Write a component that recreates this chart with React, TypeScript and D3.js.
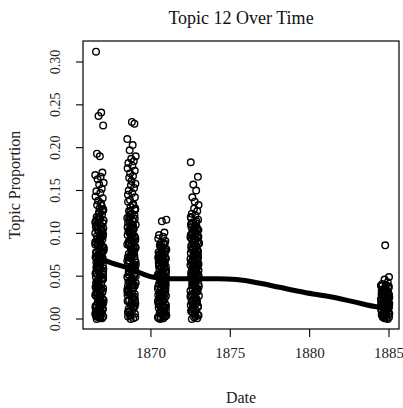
import React from "react";
import * as d3 from "d3";

const TITLE = "Topic 12 Over Time";
const X_LABEL = "Date";
const Y_LABEL = "Topic Proportion";
const X_TICKS = [1870, 1875, 1880, 1885];
const Y_TICKS = [0, 0.05, 0.1, 0.15, 0.2, 0.25, 0.3];

// publication dates (year centres of each batch)
const DATES = [1866.75, 1868.77, 1870.7, 1872.75, 1884.75];

// within-year spread of the documents (years)
const JITTER = [-0.21, 0.12, -0.05, 0.24, -0.15, 0.03, 0.19, -0.26, 0.08, -0.11, 0.27, -0.01, 0.15, -0.19, 0.06, -0.24, 0.21, -0.08, 0.1, -0.14, 0.01, 0.25, -0.03, 0.17, -0.17, 0.05, -0.22, 0.22, -0.09];

const TOPIC_1866 = [.312,.241,.237,.226,.193,.190,.171,.168,.166,.163,.159,.157,.152,.149,.147,.143,.141,.138,.135,.133,.129,.127,.124,.122,.119,.117,.114,.112,.109,.107,.104,.102,.099,.097,.095,.093,.090,.088,.086,.083,.081,.079,.077,.074,.072,.071,.068,.066,.064,.061,.059,.057,.055,.053,.051,.049,.047,.045,.042,.041,.038,.036,.034,.032,.031,.028,.026,.024,.022,.021,.018,.016,.014,.013,.011,.009,.008,.006,.004,.003,.002,.001,.000,.001,.005,.012,.019,.027,.035,.043,.052,.062,.070,.078,.087,.096,.105,.115,.124,.132,.003,.007,.015,.023,.039,.046,.058,.067,.084,.092,.101,.110,.002,.010,.063,.075,.089,.108,.118,.056,.044,.029,.126,.113,.098,.094,.082,.076,.069,.060,.050,.037,.033,.025,.017,.004,.120,.106,.091,.085,.073,.065,.054,.048,.040,.030,.020,.011,.128,.116,.111,.103,.100,.094,.089,.080,.075,.070,.066,.059,.053,.046,.043,.036,.031,.024,.019,.012,.007,.003,.117,.108,.097,.087,.078,.068,.058,.047,.038,.027,.016,.006];
const TOPIC_1868 = [.230,.228,.210,.203,.197,.190,.187,.184,.182,.179,.176,.173,.170,.167,.165,.161,.158,.156,.153,.150,.147,.145,.142,.139,.137,.134,.131,.128,.126,.123,.121,.118,.115,.113,.110,.108,.105,.103,.100,.098,.095,.093,.091,.088,.086,.083,.081,.079,.076,.074,.072,.069,.067,.065,.062,.060,.058,.056,.053,.051,.049,.046,.044,.042,.040,.037,.035,.033,.031,.029,.027,.024,.022,.020,.018,.016,.014,.012,.010,.008,.006,.004,.003,.001,.000,.002,.009,.017,.026,.034,.045,.054,.063,.071,.082,.090,.099,.107,.117,.125,.133,.120,.111,.094,.085,.077,.068,.057,.048,.039,.030,.021,.013,.005,.129,.116,.104,.097,.087,.080,.073,.066,.059,.052,.043,.036,.028,.019,.122,.109,.101,.092,.084,.075,.064,.055,.047,.038,.127,.119,.112,.106,.099,.092,.086,.079,.073,.068,.061,.056,.050,.044,.039,.032,.026,.021,.015,.009,.114,.102,.093,.083,.071,.061,.052,.041,.033,.023];
const TOPIC_1870 = [.116,.114,.101,.098,.096,.094,.091,.089,.087,.086,.083,.081,.080,.077,.076,.073,.071,.070,.068,.066,.064,.062,.061,.058,.056,.055,.052,.050,.049,.047,.045,.043,.041,.039,.038,.036,.034,.032,.031,.029,.027,.025,.024,.022,.020,.018,.017,.015,.013,.012,.010,.008,.007,.005,.003,.002,.001,.000,.004,.009,.014,.019,.023,.028,.033,.037,.042,.046,.051,.057,.060,.065,.069,.074,.078,.082,.085,.001,.006,.011,.016,.021,.026,.030,.035,.040,.044,.048,.053,.059,.063,.067,.072,.079,.002,.012,.025,.040,.054,.070,.088,.075,.063,.050,.039,.027,.018,.009,.084,.071,.058,.045,.033,.021,.015,.007,.081,.077,.068,.062,.056,.049,.043,.037,.032,.026,.020,.013,.008,.003,.074,.064,.052,.041,.029,.017];
const TOPIC_1872 = [.183,.166,.157,.150,.142,.137,.133,.129,.126,.123,.121,.118,.116,.113,.111,.108,.106,.104,.101,.099,.097,.095,.092,.090,.088,.086,.084,.081,.079,.077,.075,.073,.071,.068,.066,.064,.062,.060,.058,.056,.054,.052,.050,.048,.046,.044,.041,.039,.037,.035,.033,.031,.029,.027,.025,.022,.020,.018,.016,.014,.012,.010,.008,.006,.004,.002,.001,.000,.003,.009,.015,.021,.028,.034,.040,.047,.053,.059,.065,.070,.076,.083,.089,.094,.100,.107,.112,.119,.005,.013,.024,.036,.043,.057,.067,.080,.093,.102,.110,.072,.061,.049,.114,.103,.096,.087,.078,.069,.063,.055,.045,.038,.030,.019,.011,.109,.098,.091,.082,.074,.067,.059,.051,.042,.105,.099,.093,.085,.079,.073,.066,.060,.054,.049,.043,.037,.032,.026,.021,.017,.088,.077,.063,.051,.039,.028];
const TOPIC_1884 = [.086,.049,.046,.043,.041,.040,.038,.036,.035,.033,.032,.030,.029,.027,.026,.024,.023,.021,.020,.018,.017,.015,.014,.012,.011,.009,.008,.006,.005,.003,.002,.001,.000,.004,.007,.010,.013,.016,.019,.022,.025,.028,.031,.034,.037,.039,.001,.003,.006,.009,.012,.015,.018,.021,.024,.027,.030,.002,.008,.014,.020,.026,.033,.036,.029,.017,.011,.005,.023,.031,.038,.034,.028,.022,.016,.010,.004,.025,.019,.013];

const SERIES = [TOPIC_1866, TOPIC_1868, TOPIC_1870, TOPIC_1872, TOPIC_1884];

// loess fit
const SMOOTH_X = [1866.6, 1867.6, 1868.5, 1869.3, 1870.1, 1871.0, 1871.8, 1873.0, 1874.2, 1875.4, 1876.8, 1878.1, 1879.7, 1881.3, 1882.8, 1884.3, 1884.9];
const SMOOTH_Y = [0.072, 0.065, 0.060, 0.054, 0.049, 0.047, 0.047, 0.047, 0.047, 0.046, 0.042, 0.037, 0.031, 0.026, 0.020, 0.014, 0.013];

const W = 403;
const H = 408;
const M = { left: 83, right: 399, top: 41, bottom: 329 };
const FONT = "'Liberation Serif', 'DejaVu Serif', serif";

export default function App() {
  const x = d3.scaleLinear().domain([1865.72, 1885.63]).range([M.left, M.right]);
  const y = d3.scaleLinear().domain([0, 0.3]).range([319, 62]);

  const points: { cx: number; cy: number }[] = [];
  SERIES.forEach((vals, k) => {
    vals.forEach((v, i) => {
      const j = JITTER[(i + k * 5) % JITTER.length];
      points.push({ cx: x(DATES[k] + j), cy: y(v) });
    });
  });

  const smooth = d3
    .line<number>()
    .x((_, i) => x(SMOOTH_X[i]))
    .y((d) => y(d))
    .curve(d3.curveMonotoneX)(SMOOTH_Y);

  return (
    <svg
      width={W}
      height={H}
      style={{ position: "absolute", left: 0, top: 0, background: "#fff" }}
      fontFamily={FONT}
    >
      <text x={(M.left + M.right) / 2} y={24} textAnchor="middle" fontSize={18} fill="#111">
        {TITLE}
      </text>
      <g>
        {points.map((p, i) => (
          <circle key={i} cx={p.cx} cy={p.cy} r={3.3} fill="none" stroke="#000" strokeWidth={1.4} />
        ))}
      </g>
      <path d={smooth || ""} fill="none" stroke="#000" strokeWidth={5} strokeLinecap="round" />
      <rect x={M.left} y={M.top} width={M.right - M.left} height={M.bottom - M.top} fill="none" stroke="#000" strokeWidth={1.2} />
      {Y_TICKS.map((t) => (
        <g key={t} transform={`translate(${M.left},${y(t)})`}>
          <line x1={0} x2={-7} stroke="#000" strokeWidth={1.1} />
          <text transform="rotate(-90)" x={0} y={-23} textAnchor="middle" fontSize={14} fill="#222">
            {t.toFixed(2)}
          </text>
        </g>
      ))}
      {X_TICKS.map((t) => (
        <g key={t} transform={`translate(${x(t)},${M.bottom})`}>
          <line y1={0} y2={8} stroke="#000" strokeWidth={1.1} />
          <text y={29} textAnchor="middle" fontSize={15} fill="#222">
            {t}
          </text>
        </g>
      ))}
      <text x={(M.left + M.right) / 2} y={403} textAnchor="middle" fontSize={16} fill="#222">
        {X_LABEL}
      </text>
      <text transform={`translate(20,${(M.top + M.bottom) / 2}) rotate(-90)`} textAnchor="middle" fontSize={16} fill="#222">
        {Y_LABEL}
      </text>
    </svg>
  );
}
